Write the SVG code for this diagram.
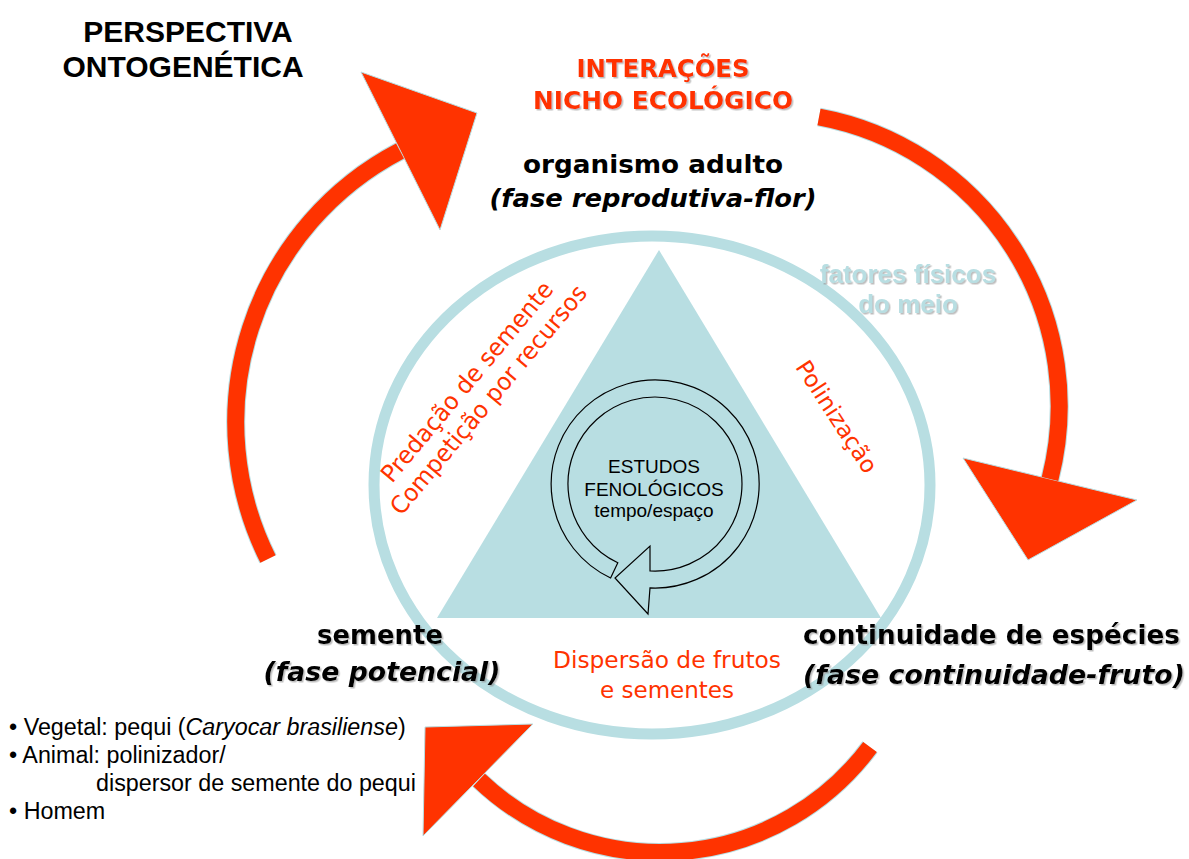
<svg xmlns="http://www.w3.org/2000/svg" width="1189" height="859" viewBox="0 0 1189 859">
<defs>
<style>
.tah{font-family:"DejaVu Sans","Liberation Sans",sans-serif}
.ari{font-family:"Liberation Sans",Arial,sans-serif}
.b{font-weight:bold}
.i{font-style:italic}
.red{fill:#FF3300}
.lb{fill:#B8DEE2}
.shaft{fill:none;stroke:#FF3300;stroke-width:17}
.edge{fill:none;stroke:#B8DEE2;stroke-width:19}
.head{fill:#FF3300;stroke:#B8DEE2;stroke-width:1}
</style>
<filter id="sh" x="-5%" y="-30%" width="112%" height="170%">
<feDropShadow dx="1.5" dy="1.5" stdDeviation="0.6" flood-color="#888" flood-opacity="0.55"/>
</filter>
</defs>
<rect width="1189" height="859" fill="#fff"/>

<g id="center-figure">
<ellipse cx="652" cy="485" rx="278" ry="249" fill="none" stroke="#B8DEE2" stroke-width="11"/>
<polygon points="659,250 881,618 437,618" fill="#B8DEE2"/>
</g>

<g id="connectors">
<path class="edge" d="M 268 559 A 306 306 0 0 1 400 151"/>
<path class="edge" d="M 819 117 A 294 294 0 0 1 1050 479"/>
<path class="edge" d="M 870 747 A 262 262 0 0 1 479 780"/>
<polygon class="head" points="361,72 477,113 440,230"/>
<polygon class="head" points="963,458 1137,500 1028,560"/>
<polygon class="head" points="533,724 425,727 423,836"/>
<path class="shaft" d="M 268 559 A 306 306 0 0 1 400 151"/>
<path class="shaft" d="M 819 117 A 294 294 0 0 1 1050 479"/>
<path class="shaft" d="M 870 747 A 262 262 0 0 1 479 780"/>
</g>

<g id="estudos">
<path d="M 610.6 578 A 104 104 0 1 1 650 587.9 L 648 614 L 615 578 L 650 546 L 650 570.9 A 87 87 0 1 0 617.8 562.7 Z" fill="none" stroke="#000" stroke-width="1.2"/>
<text class="ari" font-size="19" text-anchor="middle" fill="#000"><tspan x="654" y="473">ESTUDOS</tspan><tspan x="654" y="496">FENOLÓGICOS</tspan><tspan x="654" y="517">tempo/espaço</tspan></text>
</g>

<g id="title">
<text class="ari b" font-size="30" text-anchor="middle" fill="#000"><tspan x="188" y="42">PERSPECTIVA</tspan><tspan x="183" y="77">ONTOGENÉTICA</tspan></text>
</g>

<g id="interacoes" filter="url(#sh)">
<text class="tah b red" font-size="24" text-anchor="middle" x="663" y="77" textLength="173" lengthAdjust="spacingAndGlyphs">INTERAÇÕES</text>
<text class="tah b red" font-size="24" text-anchor="middle" x="663" y="109" textLength="260" lengthAdjust="spacingAndGlyphs">NICHO ECOLÓGICO</text>
</g>

<g id="organismo">
<text class="tah b" font-size="25" text-anchor="middle" x="653" y="173" textLength="260" lengthAdjust="spacingAndGlyphs" fill="#000">organismo adulto</text>
<text class="tah b i" font-size="25" text-anchor="middle" x="653" y="207" textLength="327" lengthAdjust="spacingAndGlyphs" fill="#000">(fase reprodutiva-flor)</text>
</g>

<g id="fatores" filter="url(#sh)">
<text class="ari b lb" font-size="26" text-anchor="middle" x="908" y="283">fatores físicos</text>
<text class="ari b lb" font-size="26" text-anchor="middle" x="908" y="313">do meio</text>
</g>

<g id="predacao" transform="translate(484,396) rotate(-50)">
<text class="tah red" font-size="24" text-anchor="middle" x="0" y="-14" textLength="253" lengthAdjust="spacingAndGlyphs">Predação de semente</text>
<text class="tah red" font-size="24" text-anchor="middle" x="0" y="14" textLength="291" lengthAdjust="spacingAndGlyphs">Competição por recursos</text>
</g>

<g id="polinizacao" transform="translate(830,421) rotate(57)">
<text class="tah red" font-size="23" text-anchor="middle" x="0" y="0" textLength="129" lengthAdjust="spacingAndGlyphs">Polinização</text>
</g>

<g id="dispersao">
<text class="tah red" font-size="23" text-anchor="middle" x="667" y="668" textLength="228" lengthAdjust="spacingAndGlyphs">Dispersão de frutos</text>
<text class="tah red" font-size="23" text-anchor="middle" x="667" y="698" textLength="134" lengthAdjust="spacingAndGlyphs">e sementes</text>
</g>

<g id="semente" filter="url(#sh)">
<text class="tah b" font-size="26" text-anchor="middle" x="380" y="644" textLength="126" lengthAdjust="spacingAndGlyphs" fill="#000">semente</text>
<text class="tah b i" font-size="26" text-anchor="middle" x="382" y="681" textLength="237" lengthAdjust="spacingAndGlyphs" fill="#000">(fase potencial)</text>
</g>

<g id="continuidade" filter="url(#sh)">
<text class="tah b" font-size="26" x="803" y="644" textLength="377" lengthAdjust="spacingAndGlyphs" fill="#000">continuidade de espécies</text>
<text class="tah b i" font-size="26" x="803" y="684" textLength="382" lengthAdjust="spacingAndGlyphs" fill="#000">(fase continuidade-fruto)</text>
</g>

<g id="exemplos" class="ari" font-size="23.3" fill="#000">
<text x="9" y="735">• Vegetal: pequi (<tspan class="i">Caryocar brasiliense</tspan>)</text>
<text x="9" y="763">• Animal: polinizador/</text>
<text x="96" y="791">dispersor de semente do pequi</text>
<text x="9" y="819">• Homem</text>
</g>
</svg>
